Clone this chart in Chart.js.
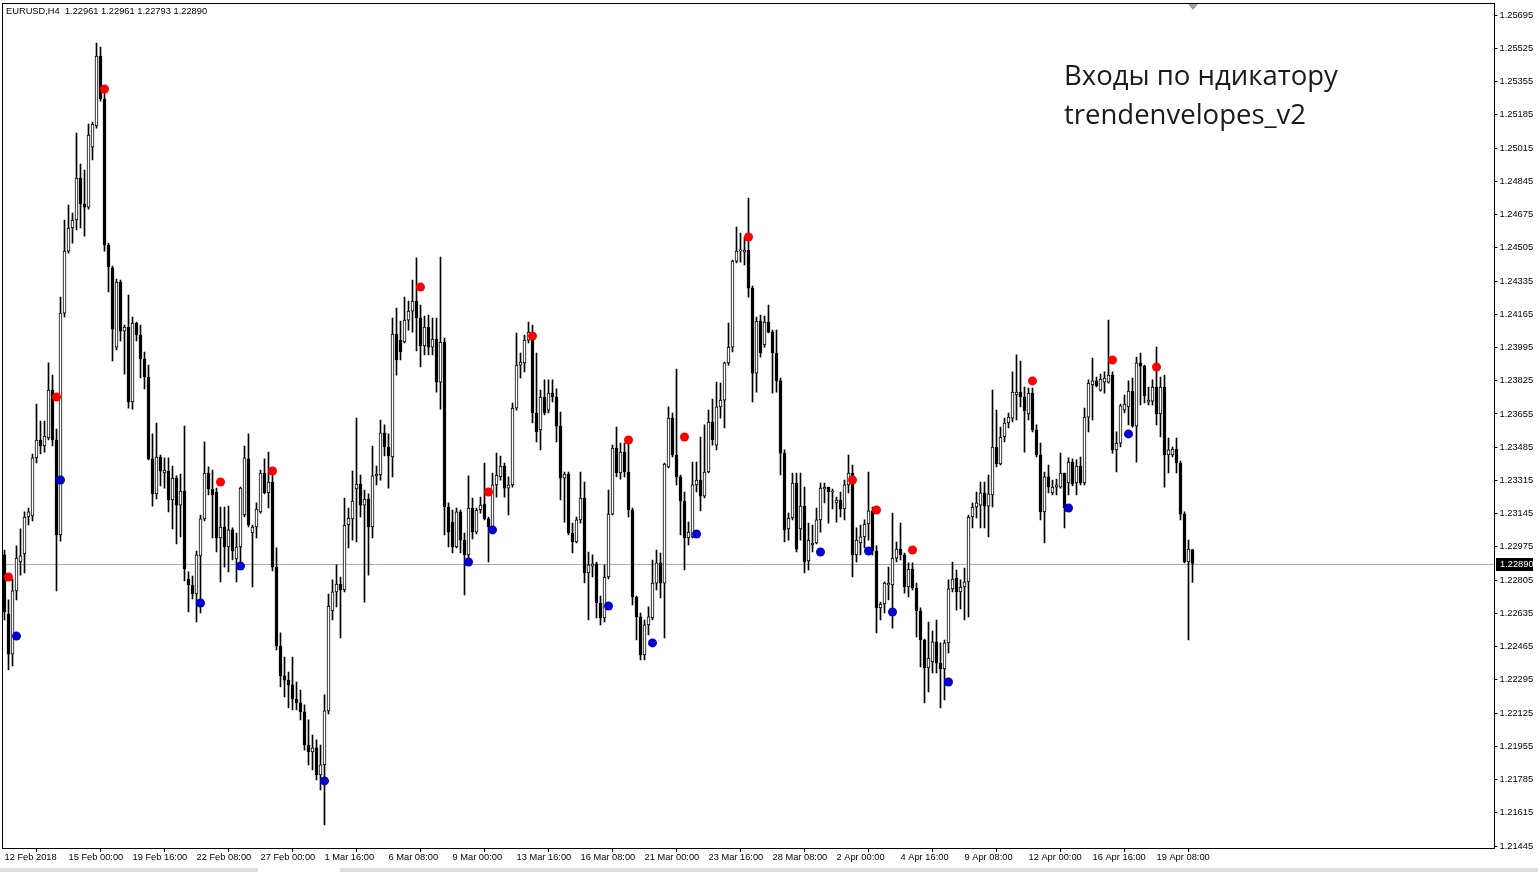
<!DOCTYPE html>
<html><head><meta charset="utf-8">
<script src="https://cdn.jsdelivr.net/npm/chart.js@4.4.1/dist/chart.umd.min.js"></script>
<style>html,body{margin:0;padding:0;background:#fff;overflow:hidden}canvas{display:block}</style>
</head><body><canvas id="c" width="1538" height="872"></canvas>
<script>
const symbolTitle = "EURUSD,H4  1.22961 1.22961 1.22793 1.22890";
const noteLines = ["Входы по ндикатору", "trendenvelopes_v2"];
const xTickLabels = ["12 Feb 2018","15 Feb 00:00","19 Feb 16:00","22 Feb 08:00","27 Feb 00:00","1 Mar 16:00","6 Mar 08:00","9 Mar 00:00","13 Mar 16:00","16 Mar 08:00","21 Mar 00:00","23 Mar 16:00","28 Mar 08:00","2 Apr 00:00","4 Apr 16:00","9 Apr 08:00","12 Apr 00:00","16 Apr 16:00","19 Apr 08:00"];
const barsPerLabel = 16;
const yTickLabels = ["1.25695","1.25525","1.25355","1.25185","1.25015","1.24845","1.24675","1.24505","1.24335","1.24165","1.23995","1.23825","1.23655","1.23485","1.23315","1.23145","1.22975","1.22805","1.22635","1.22465","1.22295","1.22125","1.21955","1.21785","1.21615","1.21445"];
const priceLabel = "1.22890";

const opens = [1.22934,1.22632,1.22427,1.22750,1.22898,1.22939,1.23128,1.23133,1.23430,1.23522,
1.23491,1.23532,1.23777,1.23522,1.23036,1.24171,1.24488,1.24606,1.24647,1.24862,
1.24729,1.24713,1.25020,1.25128,1.25486,1.25266,1.24519,1.24401,1.23997,1.24330,
1.24079,1.24100,1.23716,1.24120,1.24059,1.23936,1.23844,1.23425,1.23246,1.23435,
1.23353,1.23363,1.23215,1.23327,1.23189,1.23261,1.22811,1.22780,1.22734,1.22929,
1.23118,1.23353,1.23271,1.23256,1.23021,1.23077,1.22975,1.23062,1.22913,1.22975,
1.23138,1.23425,1.23046,1.23077,1.23154,1.23353,1.23251,1.23307,1.22872,1.22468,
1.22315,1.22294,1.22269,1.22197,1.22177,1.22131,1.21962,1.21926,1.21947,1.21809,
1.21860,1.22136,1.22647,1.22745,1.22785,1.22755,1.23087,1.23118,1.23271,1.23297,
1.23189,1.23220,1.23077,1.23338,1.23343,1.23558,1.23486,1.23435,1.24064,1.24033,
1.24023,1.24135,1.24181,1.24233,1.24146,1.24003,1.24100,1.23997,1.24038,1.23818,
1.24023,1.23179,1.23102,1.22975,1.23154,1.23010,1.22934,1.23174,1.23051,1.23164,
1.23195,1.23118,1.23077,1.23292,1.23333,1.23389,1.23276,1.23292,1.23685,1.23905,
1.23916,1.24033,1.24059,1.23660,1.23573,1.23742,1.23675,1.23762,1.23742,1.23593,
1.23327,1.23348,1.23046,1.23000,1.23113,1.23225,1.22842,1.22877,1.22888,1.22688,
1.22612,1.22821,1.23143,1.23481,1.23353,1.23460,1.23358,1.23164,1.22719,1.22617,
1.22422,1.22576,1.22612,1.22790,1.22893,1.22790,1.23384,1.23634,1.23445,1.23333,
1.23210,1.23021,1.23026,1.23292,1.23317,1.23235,1.23358,1.23614,1.23496,1.23691,
1.23726,1.23916,1.23997,1.24437,1.24488,1.24483,1.24493,1.24299,1.23864,1.24130,
1.24008,1.24125,1.24074,1.23967,1.23824,1.23455,1.23067,1.23123,1.23302,1.23067,
1.23184,1.22903,1.22985,1.22995,1.23113,1.23271,1.23281,1.23256,1.23200,1.23215,
1.23169,1.23292,1.23353,1.22934,1.22995,1.23026,1.23092,1.23159,1.22954,1.22663,
1.22683,1.22780,1.22780,1.22918,1.22964,1.22934,1.22770,1.22862,1.22765,1.22647,
1.22499,1.22356,1.22387,1.22489,1.22381,1.22351,1.22484,1.22760,1.22816,1.22745,
1.22770,1.22796,1.23128,1.23179,1.23189,1.23251,1.23184,1.23241,1.23486,1.23399,
1.23537,1.23609,1.23634,1.23752,1.23767,1.23742,1.23655,1.23762,1.23573,1.23445,
1.23154,1.23333,1.23251,1.23281,1.23281,1.23353,1.23302,1.23409,1.23302,1.23389,
1.23302,1.23639,1.23803,1.23824,1.23777,1.23818,1.23818,1.23854,1.23471,1.23506,
1.23675,1.23691,1.23772,1.23593,1.23916,1.23900,1.23716,1.23721,1.23793,1.23655,
1.23793,1.23445,1.23445,1.23476,1.23404,1.23143,1.22898,1.22961];

const highs = [1.22959,1.22704,1.22811,1.22980,1.23067,1.23154,1.23174,1.23450,1.23706,1.23619,
1.23619,1.23916,1.23854,1.23578,1.24253,1.24647,1.24724,1.24683,1.25092,1.24933,
1.24903,1.25138,1.25148,1.25552,1.25532,1.25317,1.24529,1.24412,1.24345,1.24340,
1.24110,1.24263,1.24151,1.24125,1.24110,1.23972,1.23905,1.23553,1.23609,1.23445,
1.23430,1.23430,1.23389,1.23338,1.23348,1.23593,1.22847,1.22826,1.22954,1.23138,
1.23512,1.23384,1.23368,1.23276,1.23179,1.23179,1.23184,1.23072,1.23046,1.23281,
1.23491,1.23553,1.23087,1.23200,1.23368,1.23425,1.23460,1.23353,1.22970,1.22535,
1.22412,1.22335,1.22412,1.22284,1.22243,1.22167,1.22090,1.22013,1.21988,1.21962,
1.22218,1.22734,1.22806,1.22883,1.22821,1.23225,1.23174,1.23363,1.23634,1.23343,
1.23266,1.23246,1.23491,1.23389,1.23624,1.23599,1.23553,1.24146,1.24197,1.24130,
1.24253,1.24233,1.24340,1.24453,1.24212,1.24156,1.24161,1.24146,1.24146,1.24458,
1.24043,1.23200,1.23164,1.23174,1.23164,1.23046,1.23338,1.23225,1.23174,1.23230,
1.23404,1.23128,1.23353,1.23455,1.23440,1.23404,1.23333,1.23711,1.24069,1.23967,
1.24059,1.24125,1.24110,1.23967,1.23777,1.23829,1.23829,1.23829,1.23783,1.23665,
1.23358,1.23358,1.23097,1.23128,1.23358,1.23307,1.22949,1.22934,1.22898,1.22724,
1.22883,1.23266,1.23496,1.23588,1.23506,1.23506,1.23506,1.23174,1.22724,1.22637,
1.22601,1.22668,1.22908,1.22959,1.22944,1.23404,1.23691,1.23660,1.23885,1.23343,
1.23256,1.23102,1.23409,1.23409,1.23537,1.23599,1.23675,1.23731,1.23818,1.23813,
1.23921,1.24120,1.24442,1.24611,1.24580,1.24560,1.24759,1.24309,1.24151,1.24161,
1.24156,1.24212,1.24084,1.24084,1.23839,1.23471,1.23148,1.23353,1.23353,1.23353,
1.23281,1.23097,1.23087,1.23174,1.23302,1.23302,1.23281,1.23271,1.23230,1.23256,
1.23317,1.23445,1.23394,1.23072,1.23087,1.23113,1.23358,1.23179,1.22980,1.22693,
1.22796,1.22872,1.23148,1.23000,1.23097,1.22944,1.22893,1.22893,1.22790,1.22663,
1.22504,1.22591,1.22545,1.22601,1.22484,1.22499,1.22806,1.22898,1.22857,1.22806,
1.22867,1.23138,1.23200,1.23256,1.23307,1.23307,1.23343,1.23777,1.23675,1.23588,
1.23634,1.23660,1.23870,1.23957,1.23926,1.23793,1.23788,1.23788,1.23599,1.23506,
1.23358,1.23394,1.23317,1.23322,1.23455,1.23353,1.23430,1.23425,1.23420,1.23435,
1.23685,1.23829,1.23941,1.23844,1.23859,1.23870,1.24135,1.23870,1.23563,1.23706,
1.23752,1.23824,1.23839,1.23946,1.23967,1.23905,1.23793,1.23829,1.23997,1.23844,
1.23854,1.23532,1.23486,1.23532,1.23414,1.23154,1.23010,1.22961];

const lows = [1.22601,1.22346,1.22366,1.22704,1.22831,1.22842,1.23087,1.23108,1.23404,1.23450,
1.23460,1.23522,1.23491,1.22750,1.23005,1.24151,1.24478,1.24529,1.24596,1.24606,
1.24565,1.24703,1.24954,1.25117,1.25255,1.24488,1.24279,1.23926,1.23982,1.24028,
1.23859,1.23685,1.23680,1.24028,1.23839,1.23783,1.23420,1.23184,1.23220,1.23287,
1.23276,1.23154,1.23067,1.22990,1.23026,1.22801,1.22642,1.22709,1.22591,1.22637,
1.23108,1.23241,1.23021,1.22949,1.22796,1.22872,1.22847,1.22908,1.22796,1.22893,
1.23128,1.23077,1.22770,1.23021,1.23148,1.23246,1.23174,1.22852,1.22448,1.22259,
1.22208,1.22151,1.22141,1.22141,1.22090,1.21936,1.21860,1.21834,1.21783,1.21732,
1.21553,1.22121,1.22601,1.22668,1.22509,1.22745,1.22970,1.23010,1.23000,1.23128,
1.22693,1.22831,1.23021,1.23292,1.23317,1.23440,1.23276,1.23333,1.23854,1.23931,
1.24018,1.24084,1.24074,1.23977,1.23895,1.23957,1.23957,1.23957,1.23767,1.23680,
1.23036,1.22975,1.22944,1.22970,1.22944,1.22729,1.22918,1.23016,1.23041,1.23148,
1.23113,1.22898,1.23062,1.23230,1.23317,1.23230,1.23138,1.23281,1.23675,1.23839,
1.23870,1.24018,1.23609,1.23512,1.23471,1.23650,1.23660,1.23716,1.23512,1.23215,
1.23102,1.23036,1.22944,1.22995,1.23097,1.22791,1.22601,1.22821,1.22612,1.22576,
1.22591,1.22811,1.23138,1.23333,1.23322,1.23333,1.23128,1.22678,1.22499,1.22397,
1.22397,1.22525,1.22601,1.22755,1.22714,1.22509,1.23379,1.23435,1.23292,1.23036,
1.22857,1.22985,1.23021,1.23256,1.23159,1.23225,1.23353,1.23496,1.23471,1.23634,
1.23583,1.23905,1.23972,1.24427,1.24432,1.24417,1.24253,1.23716,1.23767,1.23946,
1.23997,1.24069,1.23762,1.23767,1.23343,1.23000,1.23010,1.23113,1.22949,1.23010,
1.22842,1.22857,1.22949,1.22990,1.23051,1.23200,1.23097,1.23169,1.23102,1.23128,
1.23113,1.23251,1.22821,1.22898,1.22934,1.22970,1.23010,1.22934,1.22535,1.22601,
1.22637,1.22704,1.22560,1.22898,1.22908,1.22739,1.22719,1.22755,1.22514,1.22361,
1.22177,1.22233,1.22330,1.22330,1.22151,1.22192,1.22433,1.22745,1.22652,1.22658,
1.22601,1.22617,1.23072,1.23123,1.23072,1.23072,1.23026,1.23179,1.23384,1.23394,
1.23512,1.23583,1.23614,1.23624,1.23691,1.23460,1.23624,1.23563,1.23435,1.23113,
1.22995,1.23251,1.23241,1.23241,1.23276,1.23072,1.23241,1.23287,1.23241,1.23292,
1.23292,1.23563,1.23624,1.23793,1.23772,1.23762,1.23813,1.23455,1.23358,1.23486,
1.23660,1.23599,1.23588,1.23409,1.23701,1.23711,1.23701,1.23701,1.23599,1.23537,
1.23281,1.23353,1.23435,1.23353,1.23113,1.22893,1.22499,1.22793];

const closes = [1.22642,1.22427,1.22750,1.22918,1.22929,1.23128,1.23154,1.23430,1.23522,1.23491,
1.23542,1.23777,1.23522,1.23036,1.24171,1.24488,1.24606,1.24647,1.24862,1.24729,
1.24713,1.25082,1.25138,1.25486,1.25266,1.24519,1.24407,1.24089,1.24330,1.24079,
1.24100,1.23716,1.24120,1.24059,1.23936,1.23844,1.23425,1.23246,1.23435,1.23363,
1.23368,1.23215,1.23327,1.23189,1.23261,1.22862,1.22780,1.22734,1.22934,1.23118,
1.23353,1.23271,1.23241,1.23021,1.23077,1.22975,1.23062,1.22954,1.22975,1.23276,
1.23430,1.23087,1.23077,1.23169,1.23353,1.23251,1.23307,1.22872,1.22468,1.22315,
1.22294,1.22269,1.22197,1.22177,1.22131,1.21962,1.21926,1.21947,1.21809,1.21860,
1.22136,1.22673,1.22745,1.22785,1.22755,1.23087,1.23123,1.23210,1.23297,1.23189,
1.23220,1.23077,1.23338,1.23348,1.23558,1.23486,1.23440,1.24064,1.23931,1.23972,
1.24135,1.24181,1.24233,1.24146,1.24003,1.24100,1.23997,1.24038,1.23818,1.24023,
1.23179,1.23051,1.22975,1.23154,1.23010,1.22934,1.23174,1.23051,1.23164,1.23189,
1.23118,1.23077,1.23292,1.23343,1.23389,1.23276,1.23292,1.23685,1.23905,1.23921,
1.24033,1.24074,1.23660,1.23563,1.23742,1.23660,1.23762,1.23742,1.23593,1.23327,
1.23348,1.23046,1.23000,1.23113,1.23225,1.22842,1.22883,1.22888,1.22688,1.22612,
1.22821,1.23143,1.23481,1.23353,1.23460,1.23358,1.23164,1.22719,1.22617,1.22422,
1.22576,1.22617,1.22790,1.22893,1.22790,1.23399,1.23634,1.23445,1.23333,1.23210,
1.23021,1.23051,1.23292,1.23317,1.23235,1.23358,1.23614,1.23522,1.23691,1.23726,
1.23916,1.23997,1.24437,1.24488,1.24493,1.24493,1.24299,1.23864,1.24130,1.23967,
1.24125,1.24074,1.23967,1.23824,1.23455,1.23062,1.23123,1.23302,1.22964,1.23184,
1.22898,1.23010,1.22995,1.23113,1.23276,1.23281,1.23256,1.23261,1.23215,1.23169,
1.23292,1.23353,1.22934,1.23010,1.23026,1.23092,1.23159,1.22954,1.22663,1.22683,
1.22790,1.22790,1.22918,1.22964,1.22934,1.22770,1.22862,1.22765,1.22647,1.22499,
1.22356,1.22407,1.22489,1.22381,1.22351,1.22484,1.22760,1.22811,1.22745,1.22770,
1.22796,1.23128,1.23179,1.23200,1.23251,1.23184,1.23246,1.23486,1.23399,1.23537,
1.23609,1.23639,1.23767,1.23767,1.23742,1.23670,1.23762,1.23573,1.23445,1.23154,
1.23333,1.23281,1.23281,1.23292,1.23353,1.23174,1.23409,1.23297,1.23389,1.23302,
1.23639,1.23813,1.23824,1.23798,1.23834,1.23839,1.23854,1.23471,1.23506,1.23696,
1.23706,1.23772,1.23593,1.23916,1.23900,1.23747,1.23726,1.23793,1.23655,1.23793,
1.23445,1.23471,1.23476,1.23404,1.23143,1.22898,1.22964,1.22890];

const sellIdx = [1,13,25,54,67,104,121,132,156,170,186,212,218,227,257,277,288];
const sellPrice = [1.22821,1.23742,1.25317,1.23307,1.23363,1.24304,1.23256,1.24054,1.23522,1.23537,1.24560,1.23317,1.23164,1.22959,1.23824,1.23931,1.23895];
const buyIdx = [3,14,49,59,80,116,122,151,162,173,204,216,222,236,266,281];
const buyPrice = [1.22519,1.23317,1.22688,1.22877,1.21778,1.22898,1.23062,1.22673,1.22484,1.23041,1.22949,1.22954,1.22642,1.22284,1.23174,1.23553];

// ---- chart build ----
const n = closes.length;
const slots = 373; // bar slots across the plot (empty space to the right)
const labels = Array.from({length: slots}, (_, i) => String(i));
const wickData = labels.map((_, i) => i < n ? [lows[i], highs[i]] : null);
const bodyData = labels.map((_, i) => i < n ? [opens[i], closes[i]] : null);
const bodyColors = labels.map((_, i) => (i < n && closes[i] >= opens[i]) ? '#ffffff' : '#000000');
const sellData = labels.map((_, i) => { const k = sellIdx.indexOf(i); return k >= 0 ? sellPrice[k] : null; });
const buyData = labels.map((_, i) => { const k = buyIdx.indexOf(i); return k >= 0 ? buyPrice[k] : null; });
const yTickValues = yTickLabels.map(Number);

const axisFont = "'Liberation Sans', Arial, sans-serif";
Chart.defaults.font.family = axisFont;
Chart.defaults.color = '#000';

const overlay = {
  id: 'overlay',
  beforeDatasetsDraw(chart) {
    const {ctx, chartArea: a, scales: {y}} = chart;
    const py = Math.round(y.getPixelForValue(closes[n - 1])) + 0.5;
    ctx.save();
    ctx.strokeStyle = '#a3adba';
    ctx.lineWidth = 1;
    ctx.beginPath(); ctx.moveTo(a.left, py); ctx.lineTo(a.right, py); ctx.stroke();
    ctx.restore();
  },
  afterDraw(chart) {
    const {ctx, chartArea: a, scales: {x, y}} = chart;
    ctx.save();
    // frame
    ctx.strokeStyle = '#000'; ctx.lineWidth = 1;
    ctx.strokeRect(a.left, a.top + 0.5, a.right - a.left, a.bottom - a.top);
    // current price box on axis
    const py = Math.round(y.getPixelForValue(closes[n - 1]));
    ctx.fillStyle = '#000';
    ctx.fillRect(Math.round(a.right) + 1, py - 6, 37, 13);
    ctx.fillStyle = '#fff';
    ctx.font = "9.3px " + axisFont;
    ctx.textBaseline = 'middle'; ctx.textAlign = 'left';
    ctx.fillText(priceLabel, Math.round(a.right) + 5, py + 0.5);
    // chart shift marker
    const tx = x.getPixelForValue(n - 1) + 0.5;
    ctx.fillStyle = '#a0a0a0';
    ctx.beginPath(); ctx.moveTo(tx - 5, a.top + 1); ctx.lineTo(tx + 5, a.top + 1); ctx.lineTo(tx, a.top + 7); ctx.closePath(); ctx.fill();
    // header
    ctx.fillStyle = '#000';
    ctx.font = "9.3px " + axisFont;
    ctx.textBaseline = 'middle';
    ctx.fillText(symbolTitle, 6, 11.5);
    // note
    ctx.fillStyle = '#1a1a1a';
    ctx.font = "27.5px 'Open Sans', 'Noto Sans', sans-serif";
    ctx.textBaseline = 'alphabetic';
    ctx.fillText(noteLines[0], 1064, 85);
    ctx.fillText(noteLines[1], 1064, 124);
    // bottom window strip
    ctx.fillStyle = '#dcdcdc';
    ctx.fillRect(0, 868, 1538, 4);
    ctx.fillStyle = '#ffffff';
    ctx.fillRect(258, 868, 82, 4);
    ctx.restore();
  }
};

new Chart(document.getElementById('c'), {
  type: 'bar',
  data: {
    labels,
    datasets: [
      { type: 'bar', data: wickData, backgroundColor: '#000', borderWidth: 0, barThickness: 1, grouped: false, order: 3 },
      { type: 'bar', data: bodyData, backgroundColor: bodyColors, borderColor: '#000', borderWidth: 1, borderSkipped: false, barThickness: 3, minBarLength: 1, grouped: false, order: 2 },
      { type: 'line', data: sellData, showLine: false, pointRadius: 4.5, pointBackgroundColor: '#ff0000', pointBorderWidth: 0, order: 1 },
      { type: 'line', data: buyData, showLine: false, pointRadius: 4.5, pointBackgroundColor: '#0000cd', pointBorderWidth: 0, order: 1 }
    ]
  },
  options: {
    responsive: false,
    animation: false,
    events: [],
    layout: { autoPadding: false, padding: { left: 2.5, top: 3, right: 0, bottom: 0 } },
    plugins: { legend: { display: false }, tooltip: { enabled: false } },
    scales: {
      x: {
        type: 'category',
        offset: true,
        border: { display: false },
        grid: { display: true, drawOnChartArea: false, drawTicks: true, tickLength: 4, color: '#000', tickColor: '#000' },
        ticks: {
          autoSkip: false, maxRotation: 0, minRotation: 0, align: 'start', padding: 0,
          font: { size: 9.3 }, color: '#000',
          callback: (v, i) => (i % barsPerLabel === 0 && i / barsPerLabel < xTickLabels.length) ? xTickLabels[i / barsPerLabel] : null
        },
        afterFit: s => { s.height = 24; s.paddingLeft = 0; s.paddingRight = 0; }
      },
      y: {
        type: 'linear',
        position: 'right',
        min: 1.21435,
        max: 1.25757,
        border: { display: false },
        grid: { drawOnChartArea: false, drawTicks: true, tickLength: 3, color: '#000', tickColor: '#000' },
        afterBuildTicks: s => { s.ticks = yTickValues.map(v => ({ value: v })); },
        ticks: { autoSkip: false, padding: 2, font: { size: 9.3 }, color: '#000', callback: (v, i) => yTickLabels[i] },
        afterFit: s => { s.width = 43.5; s.paddingTop = 0; s.paddingBottom = 0; }
      }
    }
  },
  plugins: [overlay]
});
</script>
</body></html>
